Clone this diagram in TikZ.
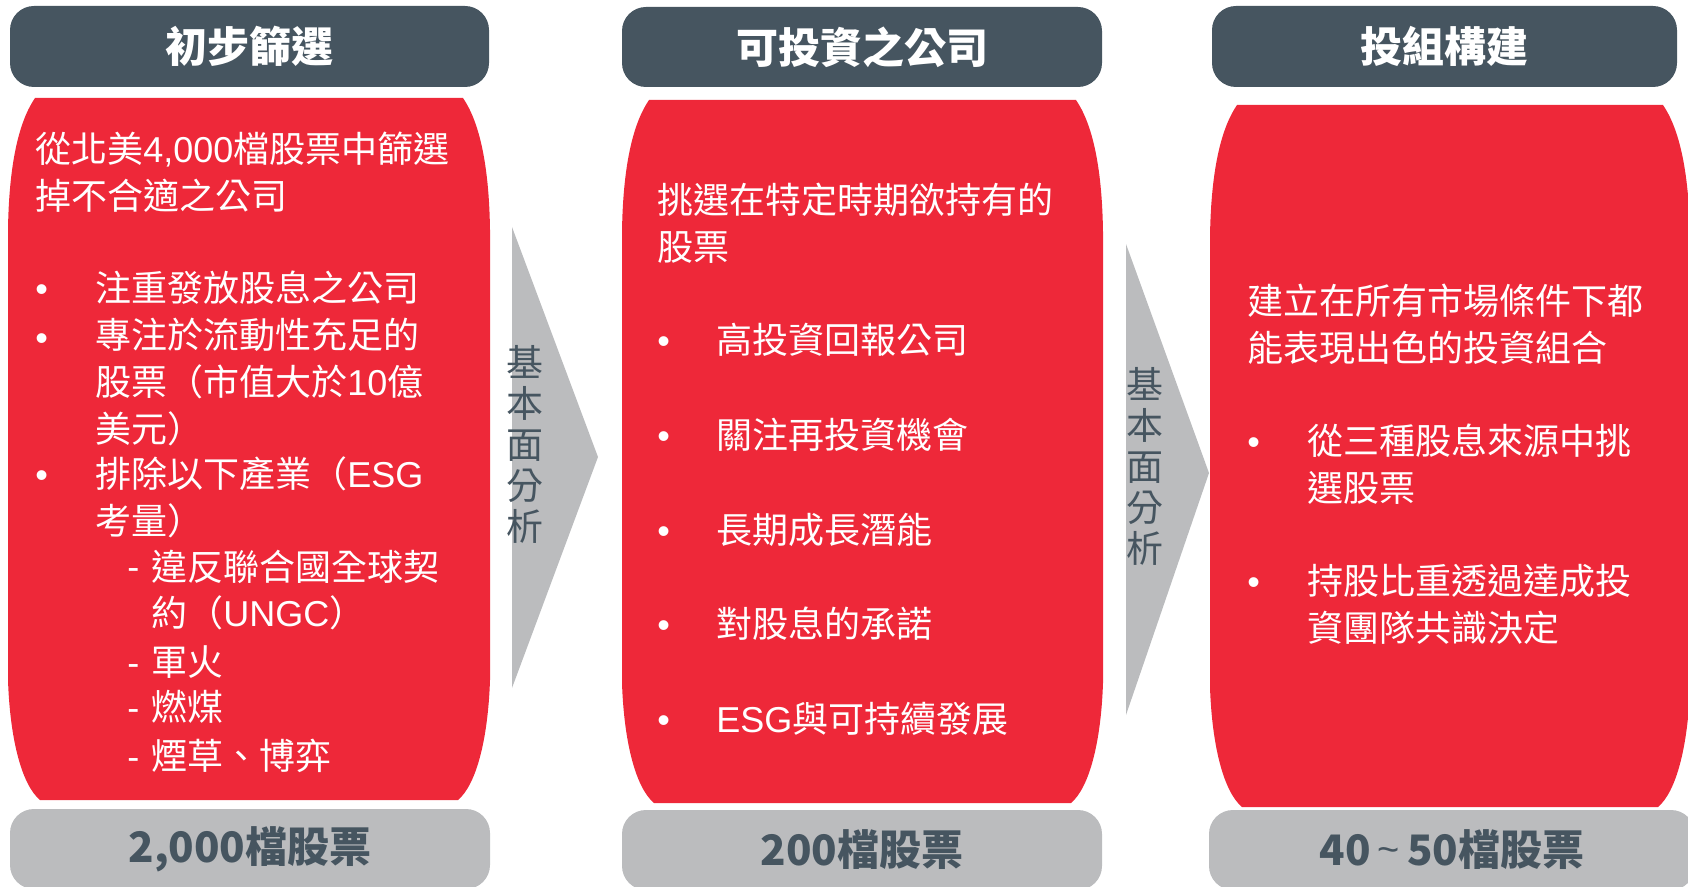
\documentclass[tikz,border=0pt]{standalone}
\usepackage{fontspec}
\setmainfont{Noto Sans CJK TC}
\newfontfamily\latin{Liberation Sans}
\usetikzlibrary{positioning}

\definecolor{slate}{HTML}{465560}
\definecolor{panelred}{HTML}{EE2839}
\definecolor{softgrey}{HTML}{BBBCBE}

\tikzset{
	headbox/.style={fill=slate, text=white, rounded corners=12pt, inner sep=0pt,
		font=\fontsize{21}{25}\selectfont\bfseries},
	countbox/.style={fill=softgrey, text=slate, rounded corners=12pt, inner sep=0pt,
		font=\fontsize{21}{25}\selectfont\bfseries},
	bodytext/.style={text=white, anchor=west, inner sep=0pt, align=left,
		font=\fontsize{18}{23.4}\selectfont},
	dotmark/.style={bodytext, text height=15.8pt, text depth=2.2pt,
		font=\fontsize{18}{23.4}\selectfont\latin},
	sidelabel/.style={text=slate, inner sep=0pt, align=center,
		font=\fontsize{18.5}{20.5}\selectfont},
}

% x0 y0 x1 y1 (pixels, y downwards)
\newcommand{\redpanel}[4]{%
	\fill[panelred] (#1+27,#2) -- (#3-27,#2)
		.. controls (#3-12,#2+22) and (#3-1,#2+62) .. (#3,#2+132)
		-- (#3,#4-120)
		.. controls (#3-2,#4-60) and (#3-14,#4-15) .. (#3-32,#4)
		-- (#1+32,#4)
		.. controls (#1+14,#4-15) and (#1+2,#4-60) .. (#1,#4-120)
		-- (#1,#2+132)
		.. controls (#1+1,#2+62) and (#1+12,#2+22) .. (#1+27,#2) -- cycle;}

\begin{document}
\begin{tikzpicture}[x=0.5pt,y=-0.5pt]
	\useasboundingbox (0,0) rectangle (1688,887);
	\clip (0,0) rectangle (1688,887);
	
	% headers
	\node[headbox, minimum width=239.5pt, minimum height=40.5pt] (hdA) at (249.5,46.5) {初步篩選};
	\node[headbox, minimum width=240pt, minimum height=40pt] (hdB) at (862,47) {可投資之公司};
	\node[headbox, minimum width=232.5pt, minimum height=40.5pt] (hdC) at (1444.5,46.5) {投組構建};
	
	% red panels
	\redpanel{8}{98}{490}{800}
	\redpanel{622}{100}{1103}{803}
	\redpanel{1210}{105}{1690}{807}
	
	% arrows
	\fill[softgrey] (512,227) -- (598,457) -- (512,688) -- cycle;
	\fill[softgrey] (1126,244) -- (1209,473) -- (1126,715) -- cycle;
	\node[sidelabel] (arrA) at (525,444) {基\\本\\面\\分\\析};
	\node[sidelabel] (arrB) at (1145,466) {基\\本\\面\\分\\析};
	
	% counts
	\node[countbox, minimum width=240pt, minimum height=40pt] (cntA) at (250,849) {2,000檔股票};
	\node[countbox, minimum width=240pt, minimum height=40pt] (cntB) at (862,850) {200檔股票};
	\node[countbox, minimum width=243pt, minimum height=40pt] (cntC) at (1452,850) {40\,{\latin\mdseries\fontsize{19}{20}\selectfont\raisebox{1.5pt}{\textasciitilde}}\,50檔股票};
	
	% panel A
	\node[bodytext] (introA) at (35,172) {從北美{\latin 4,000}檔股票中篩選\\掉不合適之公司};
	\node[dotmark] (dotA1) at (35,288) {•};
	\node[dotmark] (dotA2) at (35,337) {•};
	\node[dotmark] (dotA3) at (35,474) {•};
	\node[bodytext] (itemA1) at (95,288) {注重發放股息之公司};
	\node[bodytext] (itemA2) at (95,382) {專注於流動性充足的\\股票（市值大於{\latin 10}億\\美元）};
	\node[bodytext] (itemA3) at (95,497) {排除以下產業（{\latin ESG}\\考量）};
	\node[dotmark] (dashA1) at (127,566) {-};
	\node[dotmark] (dashA2) at (127,662) {-};
	\node[dotmark] (dashA3) at (127,707) {-};
	\node[dotmark] (dashA4) at (127,756) {-};
	\node[bodytext] (subA1) at (151,590) {違反聯合國全球契\\約（{\latin UNGC}）};
	\node[bodytext] (subA2) at (151,662) {軍火};
	\node[bodytext] (subA3) at (151,707) {燃煤};
	\node[bodytext] (subA4) at (151,756) {煙草、博弈};
	
	% panel B
	\node[bodytext] (introB) at (657,223) {挑選在特定時期欲持有的\\股票};
	\node[dotmark] (dotB1) at (657,340) {•};
	\node[dotmark] (dotB2) at (657,435) {•};
	\node[dotmark] (dotB3) at (657,530) {•};
	\node[dotmark] (dotB4) at (657,624) {•};
	\node[dotmark] (dotB5) at (657,719) {•};
	\node[bodytext] (itemB1) at (716,340) {高投資回報公司};
	\node[bodytext] (itemB2) at (716,435) {關注再投資機會};
	\node[bodytext] (itemB3) at (716,530) {長期成長潛能};
	\node[bodytext] (itemB4) at (716,624) {對股息的承諾};
	\node[bodytext] (itemB5) at (716,719) {{\latin ESG}與可持續發展};
	
	% panel C
	\node[bodytext] (introC) at (1247,324) {建立在所有市場條件下都\\能表現出色的投資組合};
	\node[dotmark] (dotC1) at (1247,441) {•};
	\node[dotmark] (dotC2) at (1247,581) {•};
	\node[bodytext] (itemC1) at (1307,464) {從三種股息來源中挑\\選股票};
	\node[bodytext] (itemC2) at (1307,604) {持股比重透過達成投\\資團隊共識決定};
\end{tikzpicture}
\end{document}
